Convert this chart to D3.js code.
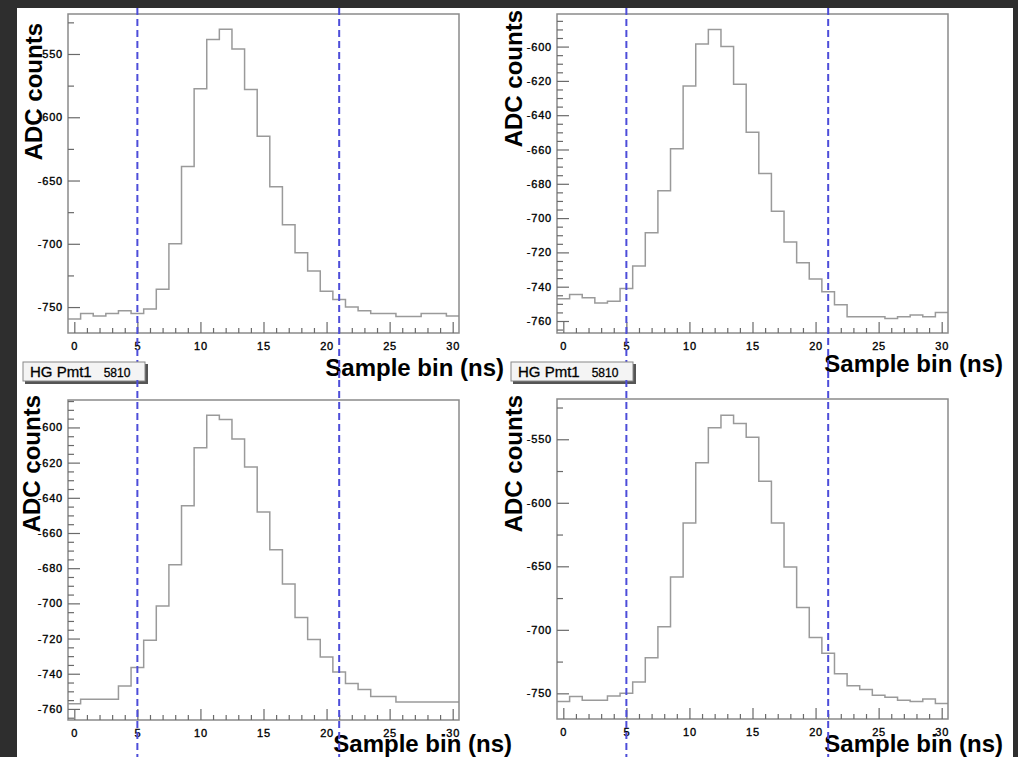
<!DOCTYPE html>
<html>
<head>
<meta charset="utf-8">
<script src="https://cdn.jsdelivr.net/npm/d3@7"></script>
<style>
  html, body { margin: 0; padding: 0; background: #2e2e2e; overflow: hidden; }
  svg { display: block; }
</style>
</head>
<body>
<div id="chart"></div>
<script>
// ADC value of each sample bin (0..30), one array per pad
const pmtTopLeft = [-759.5, -755, -757, -755, -753, -755, -751.5, -736, -700, -639, -577.5,
  -538.5, -530.5, -546, -578, -615, -655, -685, -707, -721.5, -737.5,
  -744, -750, -753, -755, -755, -757.5, -757.5, -755, -755, -757];
const pmtTopRight = [-747, -744.5, -746.5, -749.5, -748.5, -741, -728, -708.5, -684, -659.5, -623,
  -598.5, -590, -600, -622, -650, -674, -696, -714, -726, -735.5,
  -743, -750.5, -757.5, -757.5, -757.5, -758.5, -757.5, -756.5, -757.5, -755];
const pmtBottomLeft = [-757, -754.5, -754.5, -754.5, -747, -736.5, -721, -701.5, -678, -644.5, -611.5,
  -593, -595.5, -606.5, -622.5, -648, -669.5, -689, -708, -720.5, -730.5,
  -739, -745.5, -749, -753, -753, -756, -756, -756, -756, -756];
const pmtBottomRight = [-756.5, -752.5, -755.5, -755.5, -752, -750, -741, -722, -697.5, -658.5, -616,
  -568.5, -541, -531, -537.5, -548.5, -583, -616, -650.5, -682.5, -706,
  -718.5, -734.5, -744, -747, -751.5, -753, -755.5, -756.5, -754.5, -758];

const xTickLabels = [0, 5, 10, 15, 20, 25, 30];
const yTicksWide = [-750, -700, -650, -600, -550];
const yTicksNarrow = [-760, -740, -720, -700, -680, -660, -640, -620, -600];
const windowEdges = [5, 21];
const padTitle = ['HG Pmt1', '5810'];
const xTitle = 'Sample bin (ns)';
const yTitle = 'ADC counts';

const cfg = {
  w: 1018,
  h: 757,
  frameW: 391,
  font: '"Liberation Sans", Arial, Helvetica, sans-serif',
  frameColor: '#8a8a8a',
  histColor: '#9a9a9a',
  tickColor: '#6a6a6a',
  dashColor: '#4d4dd9',
};

const panels = [
  { data: pmtTopLeft, x0: 68, y0: 14, y1: 333, yDomain: [-770.5, -518.4], major: yTicksWide, minorStep: 25,
    padTop: 8, padBottom: 380, xTitleEnd: 504, xTitleY: 376, yTitleX: 42, yTitleEnd: 23, box: null },
  { data: pmtTopRight, x0: 557, y0: 14, y1: 333, yDomain: [-767, -581], major: yTicksNarrow, minorStep: 5,
    padTop: 8, padBottom: 380, xTitleEnd: 1003, xTitleY: 372, yTitleX: 522, yTitleEnd: 10, box: null },
  { data: pmtBottomLeft, x0: 68, y0: 400, y1: 720, yDomain: [-766.3, -584.4], major: yTicksNarrow, minorStep: 5,
    padTop: 380, padBottom: 757, xTitleEnd: 512, xTitleY: 752, yTitleX: 40, yTitleEnd: 395, box: [23, 362] },
  { data: pmtBottomRight, x0: 557, y0: 399, y1: 719, yDomain: [-770.2, -518.3], major: yTicksWide, minorStep: 25,
    padTop: 380, padBottom: 757, xTitleEnd: 1003, xTitleY: 752, yTitleX: 522, yTitleEnd: 395, box: [511, 362] },
];

const svg = d3.select('#chart')
  .append('svg')
  .attr('width', cfg.w)
  .attr('height', cfg.h);

// canvas area inside the dark window border
svg.append('rect')
  .attr('x', 17)
  .attr('y', 8)
  .attr('width', 996)
  .attr('height', cfg.h - 8)
  .attr('fill', '#fff');

panels.forEach((p) => {
  const nBins = p.data.length;
  const x = d3.scaleLinear().domain([-0.5, nBins - 0.5]).range([p.x0, p.x0 + cfg.frameW]);
  const y = d3.scaleLinear().domain(p.yDomain).range([p.y1, p.y0]);
  const g = svg.append('g');

  // histogram as a step line
  const steps = p.data.map((v, i) => [i - 0.5, v]);
  steps.push([nBins - 0.5, p.data[nBins - 1]]);
  g.append('path')
    .datum(steps)
    .attr('d', d3.line().x(d => x(d[0])).y(d => y(d[1])).curve(d3.curveStepAfter))
    .attr('fill', 'none')
    .attr('stroke', cfg.histColor)
    .attr('stroke-width', 1.5);

  // frame
  g.append('rect')
    .attr('x', p.x0)
    .attr('y', p.y0)
    .attr('width', cfg.frameW)
    .attr('height', p.y1 - p.y0)
    .attr('fill', 'none')
    .attr('stroke', cfg.frameColor)
    .attr('stroke-width', 1.5);

  // y axis: inward ticks, major + minor
  const minor = d3.range(-800, -480, p.minorStep)
    .filter(v => v >= p.yDomain[0] && v <= p.yDomain[1] && !p.major.includes(v));
  const yMinor = g.append('g')
    .attr('transform', `translate(${p.x0},0)`)
    .call(d3.axisLeft(y).tickValues(minor).tickSize(-6).tickFormat(''));
  const yMajor = g.append('g')
    .attr('transform', `translate(${p.x0},0)`)
    .call(d3.axisLeft(y).tickValues(p.major).tickSize(-12).tickPadding(5).tickFormat(d => String(d)));

  // x axis: inward ticks on every bin
  const xMinor = g.append('g')
    .attr('transform', `translate(0,${p.y1})`)
    .call(d3.axisBottom(x).tickValues(d3.range(0, nBins).filter(v => v % 5 !== 0)).tickSize(-5).tickFormat(''));
  const xMajor = g.append('g')
    .attr('transform', `translate(0,${p.y1})`)
    .call(d3.axisBottom(x).tickValues(xTickLabels).tickSize(-11).tickPadding(9).tickFormat(d => String(d)));

  [yMinor, yMajor, xMinor, xMajor].forEach((ax) => {
    ax.select('.domain').remove();
    ax.selectAll('line').attr('stroke', cfg.tickColor).attr('stroke-width', 1.2);
    ax.selectAll('text')
      .attr('fill', '#000')
      .attr('stroke', '#000')
      .attr('stroke-width', 0.35)
      .style('font-family', cfg.font)
      .style('font-size', '11px')
      .style('letter-spacing', '0.8px');
  });

  // axis titles
  g.append('text')
    .attr('x', p.xTitleEnd)
    .attr('y', p.xTitleY)
    .attr('text-anchor', 'end')
    .style('font-family', cfg.font)
    .style('font-size', '24px')
    .style('font-weight', 'bold')
    .text(xTitle);

  g.append('text')
    .attr('transform', `translate(${p.yTitleX},${p.yTitleEnd}) rotate(-90)`)
    .attr('text-anchor', 'end')
    .style('font-family', cfg.font)
    .style('font-size', '24px')
    .style('font-weight', 'bold')
    .text(yTitle);

  // pad title box
  if (p.box) {
    const [bx, by] = p.box;
    g.append('rect')
      .attr('x', bx + 2)
      .attr('y', by + 2)
      .attr('width', 123)
      .attr('height', 20)
      .attr('fill', '#555');
    g.append('rect')
      .attr('x', bx)
      .attr('y', by)
      .attr('width', 122)
      .attr('height', 19)
      .attr('fill', '#f4f4f4')
      .attr('stroke', '#888')
      .attr('stroke-width', 1);
    const t = g.append('text')
      .attr('x', bx + 7)
      .attr('y', by + 15)
      .attr('stroke', '#000')
      .attr('stroke-width', 0.3)
      .style('font-family', cfg.font)
      .style('font-size', '15px');
    t.append('tspan').text(padTitle[0]);
    t.append('tspan').attr('dx', 12).style('font-size', '12px').text(padTitle[1]);
  }

  // integration window
  g.selectAll('.window')
    .data(windowEdges)
    .enter()
    .append('line')
    .attr('x1', d => x(d))
    .attr('x2', d => x(d))
    .attr('y1', p.padTop)
    .attr('y2', p.padBottom)
    .attr('stroke', cfg.dashColor)
    .attr('stroke-width', 2)
    .attr('stroke-dasharray', '7,4');
});
</script>
</body>
</html>
